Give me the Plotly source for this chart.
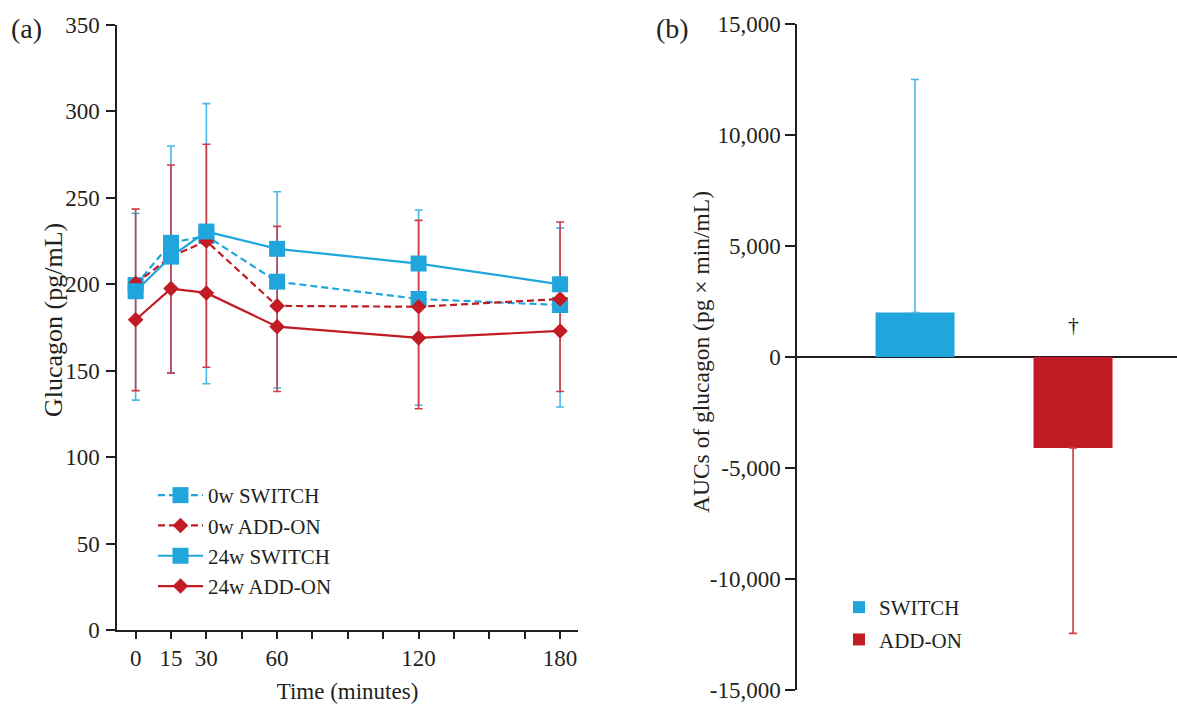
import plotly.graph_objects as go

W, H = 1177, 704

# ---------------- data: panel (a) ----------------
time_min = [0, 15, 30, 60, 120, 180]
x_tick_vals = [0, 15, 30, 45, 60, 75, 90, 105, 120, 135, 150, 165, 180]
x_tick_text = ["0", "15", "30", "", "60", "", "", "", "120", "", "", "", "180"]
y_tick_vals_a = [0, 50, 100, 150, 200, 250, 300, 350]

switch_0w = [199.5, 224, 228, 201.5, 191.5, 188]
addon_0w = [200.5, 216, 225, 187.5, 187, 191.5]
switch_24w = [196, 216, 230.5, 220.5, 212, 200]
addon_24w = [179.5, 197.5, 195, 175.5, 169, 173]

switch_err_upper = [241, 280, 304.5, 253.5, 243, 232.5]
switch_err_lower = [133, 149, 142.5, 140, 130, 129]
addon_err_upper = [243.5, 269, 281, 233.5, 237, 236]
addon_err_lower = [138.5, 148.5, 152, 138, 128, 138]

# ---------------- data: panel (b) ----------------
auc_groups = ["SWITCH", "ADD-ON"]
auc_values = [2000, -4100]
auc_err_end = [12500, -12450]
y_tick_vals_b = [-15000, -10000, -5000, 0, 5000, 10000, 15000]
y_tick_text_b = ["-15,000", "-10,000", "-5,000", "0", "5,000", "10,000", "15,000"]

BLUE = "#20A6DD"
RED = "#C11B23"
BLUE_ERR = "#4BB7E6"
RED_ERR = "#CF3B46"
AXC = "#231F20"
FONT = "Liberation Serif"


def px_x(p):
    return p / W


def px_y(p):
    return (H - p) / H


fig = go.Figure()

# error bars (panel a)
fig.add_trace(go.Scatter(
    x=time_min, y=switch_24w, mode="markers",
    marker=dict(size=1, color="rgba(0,0,0,0)"),
    error_y=dict(type="data", symmetric=False,
                 array=[u - c for u, c in zip(switch_err_upper, switch_24w)],
                 arrayminus=[c - l for l, c in zip(switch_err_lower, switch_24w)],
                 color=BLUE_ERR, thickness=1.6, width=4),
    showlegend=False, hoverinfo="skip", xaxis="x", yaxis="y"))
fig.add_trace(go.Scatter(
    x=time_min, y=addon_24w, mode="markers",
    marker=dict(size=1, color="rgba(0,0,0,0)"),
    error_y=dict(type="data", symmetric=False,
                 array=[u - c for u, c in zip(addon_err_upper, addon_24w)],
                 arrayminus=[c - l for l, c in zip(addon_err_lower, addon_24w)],
                 color=RED_ERR, thickness=1.6, width=4),
    showlegend=False, hoverinfo="skip", xaxis="x", yaxis="y"))

series = [
    ("0w SWITCH", switch_0w, BLUE, "square", 16, "7px,4px"),
    ("0w ADD-ON", addon_0w, RED, "diamond", 12, "7px,4px"),
    ("24w SWITCH", switch_24w, BLUE, "square", 16, "solid"),
    ("24w ADD-ON", addon_24w, RED, "diamond", 12, "solid"),
]
for name, vals, col, sym, sz, dash in series:
    fig.add_trace(go.Scatter(
        x=time_min, y=vals, mode="lines+markers", name=name,
        line=dict(color=col, width=2.2, dash=dash),
        marker=dict(symbol=sym, size=sz, color=col, line=dict(width=0)),
        legend="legend", legendgroup=name, xaxis="x", yaxis="y"))

# bars (panel b)
bar_cols = [BLUE, RED]
err_cols = [BLUE_ERR, RED_ERR]
for g, v, e, bc, ec in zip(auc_groups, auc_values, auc_err_end, bar_cols, err_cols):
    up = max(e - v, 0)
    dn = max(v - e, 0)
    fig.add_trace(go.Bar(
        x=[g], y=[v], name=g, marker=dict(color=bc, line=dict(width=0)),
        width=0.5,
        error_y=dict(type="data", symmetric=False, array=[up], arrayminus=[dn],
                     color=ec, thickness=1.6, width=4),
        legend="legend2", legendgroup=g, xaxis="x2", yaxis="y2"))

TICKFONT = dict(family=FONT, size=23, color=AXC)
axis_common = dict(showgrid=False, showline=True, linecolor=AXC,
                   linewidth=1.5, ticks="outside", tickcolor=AXC, tickwidth=1.5,
                   tickfont=TICKFONT, automargin=False, ticklabeloverflow="allow")

fig.update_layout(
    width=W, height=H,
    margin=dict(l=0, r=0, t=0, b=0),
    paper_bgcolor="white", plot_bgcolor="white",
    font=dict(family=FONT, size=21, color=AXC),
    barmode="overlay",
    xaxis=dict(domain=[px_x(117), px_x(578)], range=[-7.9, 187.6], zeroline=False,
               tickvals=x_tick_vals, ticktext=x_tick_text, ticklen=7,
               title=dict(text="Time (minutes)", font=dict(family=FONT, size=23, color=AXC), standoff=14),
               anchor="y", **axis_common),
    yaxis=dict(domain=[px_y(630), px_y(25)], range=[0, 350], zeroline=False,
               tickvals=y_tick_vals_a, ticklen=9, ticklabelstandoff=2,
               anchor="x", **axis_common),
    xaxis2=dict(domain=[px_x(797), 1.0], range=[-0.747, 1.658], type="category",
                showgrid=False, zeroline=False, showline=False, ticks="",
                showticklabels=False, anchor="y2", automargin=False),
    yaxis2=dict(domain=[px_y(690), px_y(24)], range=[-15000, 15000],
                zeroline=True, zerolinecolor=AXC, zerolinewidth=1.5,
                tickvals=y_tick_vals_b, ticktext=y_tick_text_b, ticklen=10, ticklabelstandoff=0,
                anchor="x2", **axis_common),
    legend=dict(x=px_x(153), y=px_y(475), xanchor="left", yanchor="top",
                font=dict(family=FONT, size=21, color=AXC), itemwidth=45,
                tracegroupgap=0, bgcolor="rgba(0,0,0,0)"),
    legend2=dict(x=px_x(839), y=px_y(587), xanchor="left", yanchor="top",
                 font=dict(family=FONT, size=21, color=AXC),
                 tracegroupgap=2, bgcolor="rgba(0,0,0,0)"),
)

# y-axis titles
fig.add_annotation(text="Glucagon (pg/mL)", x=px_x(53), y=px_y(320), xref="paper", yref="paper",
                   xanchor="center", yanchor="middle", textangle=-90, showarrow=False,
                   font=dict(family=FONT, size=26, color=AXC))
fig.add_annotation(text="AUCs of glucagon (pg × min/mL)", x=px_x(701), y=px_y(352),
                   xref="paper", yref="paper", xanchor="center", yanchor="middle",
                   textangle=-90, showarrow=False,
                   font=dict(family=FONT, size=23.5, color=AXC))

# panel labels and significance mark
fig.add_annotation(text="(a)", x=px_x(9), y=px_y(28), xref="paper", yref="paper",
                   xanchor="left", yanchor="middle", showarrow=False,
                   font=dict(family=FONT, size=28, color=AXC))
fig.add_annotation(text="(b)", x=px_x(654), y=px_y(28), xref="paper", yref="paper",
                   xanchor="left", yanchor="middle", showarrow=False,
                   font=dict(family=FONT, size=28, color=AXC))
fig.add_annotation(text="†", x="ADD-ON", y=1450, xref="x2", yref="y2",
                   xanchor="center", yanchor="middle", showarrow=False,
                   font=dict(family=FONT, size=22, color=AXC))

fig.write_html("out.html", config={"displayModeBar": False},
               post_script="document.body.style.margin='0';")
